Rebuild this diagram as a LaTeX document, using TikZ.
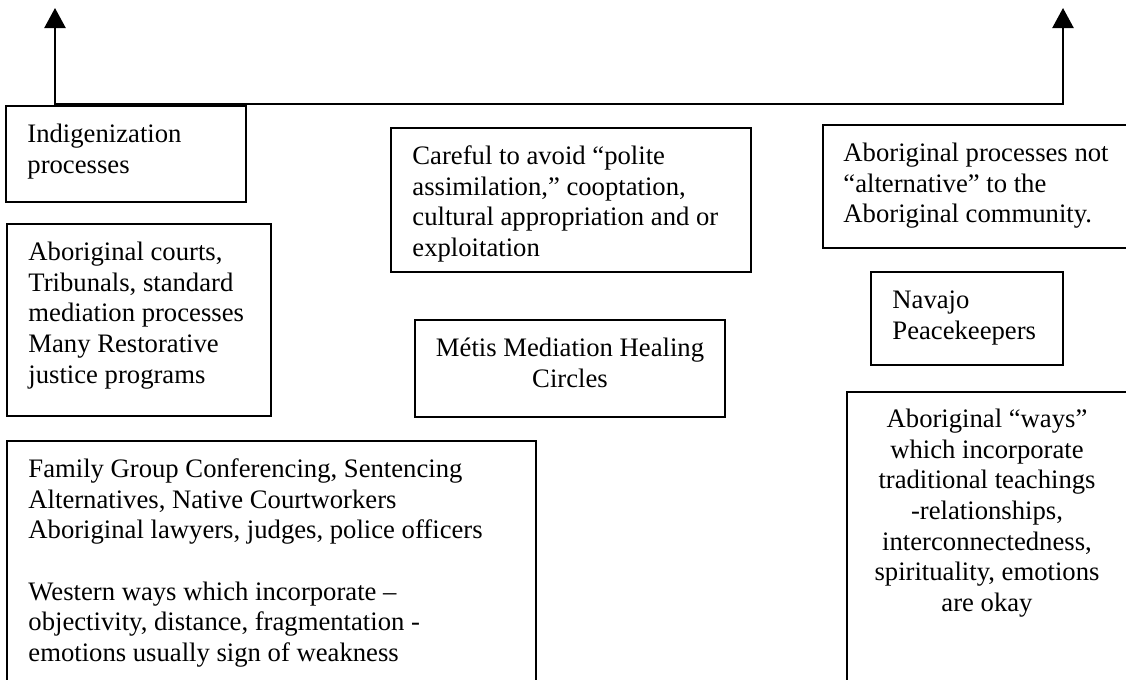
\documentclass[tikz,border=0pt]{standalone}
\usepackage{fontspec}
\setmainfont{Liberation Serif}
\usetikzlibrary{arrows.meta,fit}
\newcommand\boxfont{\fontsize{12pt}{13.8pt}\selectfont}
\tikzset{
  box/.style={draw, line width=0.9pt, inner sep=0pt, rectangle},
  txt/.style={inner sep=0pt, anchor=north west, align=left, font=\boxfont},
  ctxt/.style={inner sep=0pt, anchor=north, align=center, font=\boxfont},
  tipped/.style={line width=0.9pt, {Triangle[length=9pt,width=9.5pt]}-{Triangle[length=9pt,width=9.5pt]}}
}
\begin{document}
\begin{tikzpicture}[x=0.45pt,y=-0.45pt]
\useasboundingbox (0,0) rectangle (1126,679);
\clip (0,0) rectangle (1126,679);
\fill[white] (0,0) rectangle (1126,679);

% connector
\coordinate (lt) at (55,8);
\coordinate (lb) at (55,104);
\coordinate (rb) at (1063,104);
\coordinate (rt) at (1063,8);
\draw[tipped] (lt) -- (lb) -- (rb) -- (rt);

% boxes
\node[box, fit={(6,106) (246,202)}] (indig) {};
\node[box, fit={(7,224) (271,416)}] (courts) {};
\node[box, fit={(391,128) (751,272)}] (careful) {};
\node[box, fit={(823,125) (1135,248)}] (procs) {};
\node[box, fit={(415,320) (725,417)}] (metis) {};
\node[box, fit={(871,272) (1063,365)}] (navajo) {};
\node[box, fit={(847,392) (1128,700)}] (ways) {};
\node[box, fit={(7,441) (536,700)}] (family) {};

% texts
\node[txt] (tindig) at (27,120.5) {\strut Indigenization\\processes};
\node[txt] (tcourts) at (28,238.5) {\strut Aboriginal courts,\\Tribunals, standard\\mediation processes\\Many Restorative\\justice programs};
\node[txt] (tcareful) at (412,142.5) {\strut Careful to avoid “polite\\assimilation,” cooptation,\\cultural appropriation and or\\exploitation};
\node[txt] (tprocs) at (843,139.5) {\strut Aboriginal processes not\\“alternative” to the\\Aboriginal community.};
\node[ctxt] (tmetis) at (570,334.5) {\strut Métis Mediation Healing\\Circles};
\node[txt] (tnavajo) at (892,286.5) {\strut Navajo\\Peacekeepers};
\node[ctxt] (tways) at (987,405.5) {\strut Aboriginal “ways”\\which incorporate\\traditional teachings\\-relationships,\\interconnectedness,\\spirituality, emotions\\are okay};
\node[txt] (tfamily) at (28,455.5) {\strut Family Group Conferencing, Sentencing\\Alternatives, Native Courtworkers\\Aboriginal lawyers, judges, police officers\\[13.8pt]Western ways which incorporate –\\objectivity, distance, fragmentation -\\emotions usually sign of weakness};
\end{tikzpicture}
\end{document}
